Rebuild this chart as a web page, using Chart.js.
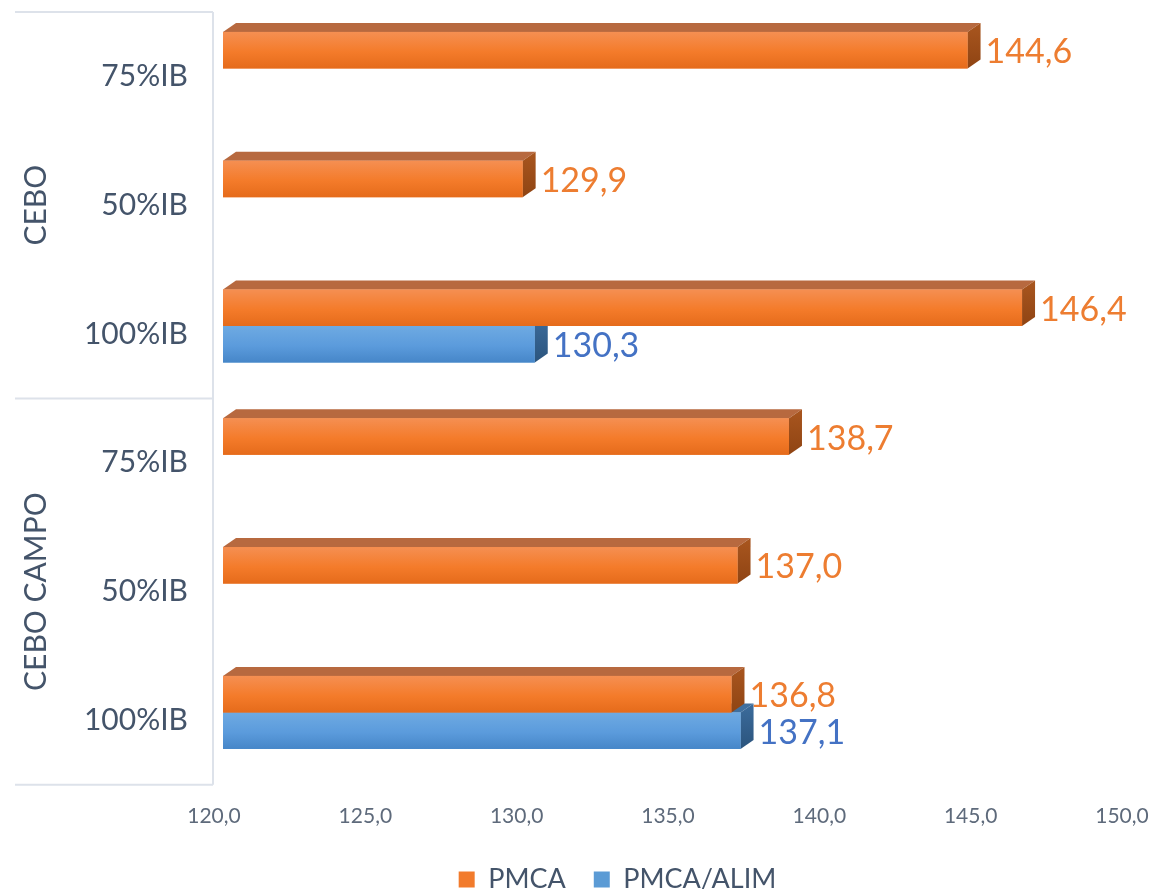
<!DOCTYPE html>
<html><head><meta charset="utf-8">
<script src="https://cdn.jsdelivr.net/npm/chart.js@4/dist/chart.umd.min.js"></script>
<style>html,body{margin:0;padding:0;background:#fff}#wrap{width:1153px;height:889px}</style>
</head><body><div id="wrap"><canvas id="c" width="1153" height="889"></canvas></div>
<script>
const groups = ['CEBO', 'CEBO CAMPO'];
const groupSizes = [3, 3];
const categories = ['75%IB', '50%IB', '100%IB', '75%IB', '50%IB', '100%IB'];
const seriesNames = ['PMCA', 'PMCA/ALIM'];
const pmca = [144.6, 129.9, 146.4, 138.7, 137.0, 136.8];
const pmcaAlim = [null, null, 130.3, null, null, 137.1];
const xMin = 120, xMax = 150, xStep = 5;

const FONT = 'Lato, "Noto Sans", sans-serif';
const DX = 13, DY = 9, OFF = 8;
const fmt = v => v.toFixed(1).replace('.', ',');
const styles = [
  {base: '#f27b2c', top: '#b7693f', s0: '#a9561f', s1: '#8f4413', g0: '#f58f52', g1: '#f47b2a', g2: '#e56b1b', label: '#ed7d31'},
  {base: '#5b9bd5', top: '#40709f', s0: '#3c6c9c', s1: '#2b547d', g0: '#6eaae2', g1: '#5b9bdc', g2: '#4686c8', label: '#4472c4'}
];

const bar3d = {
  id: 'bar3d',
  afterLayout(chart) {
    const lg = chart.legend;
    if (lg) { lg.left += 52; lg.right += 52; lg.top -= 18; lg.bottom -= 18; }
  },
  afterDatasetDraw(chart, args) {
    const i = args.index, st = styles[i], ctx = chart.ctx;
    ctx.save();
    args.meta.data.forEach((bar, j) => {
      const v = chart.data.datasets[i].data[j];
      if (v == null) return;
      const p = bar.getProps(['x', 'y', 'base', 'height'], true);
      const top = p.y - p.height / 2, bot = p.y + p.height / 2;
      const left = Math.max(p.base, chart.chartArea.left), right = p.x;
      ctx.fillStyle = st.top;
      ctx.beginPath();
      ctx.moveTo(left, top); ctx.lineTo(left + DX, top - DY);
      ctx.lineTo(right + DX, top - DY); ctx.lineTo(right, top);
      ctx.closePath(); ctx.fill();
      const sg = ctx.createLinearGradient(0, top - DY, 0, bot);
      sg.addColorStop(0, st.s0); sg.addColorStop(1, st.s1);
      ctx.fillStyle = sg;
      ctx.beginPath();
      ctx.moveTo(right, top); ctx.lineTo(right + DX, top - DY);
      ctx.lineTo(right + DX, bot - DY); ctx.lineTo(right, bot);
      ctx.closePath(); ctx.fill();
      const g = ctx.createLinearGradient(0, top, 0, bot);
      g.addColorStop(0, st.g0); g.addColorStop(0.55, st.g1); g.addColorStop(1, st.g2);
      ctx.fillStyle = g;
      ctx.fillRect(left, top, right - left, bot - top);
    });
    ctx.restore();
  },
  afterDraw(chart) {
    const ctx = chart.ctx;
    ctx.save();
    chart.data.datasets.forEach((ds, i) => {
      const meta = chart.getDatasetMeta(i);
      meta.data.forEach((bar, j) => {
        const v = ds.data[j];
        if (v == null) return;
        const p = bar.getProps(['x', 'y'], true);
        ctx.fillStyle = styles[i].label;
        ctx.font = '34px ' + FONT;
        ctx.textAlign = 'left';
        ctx.textBaseline = 'middle';
        ctx.fillText(fmt(v), p.x + DX + 5, p.y + 2);
      });
    });
    const ys = chart.scales.y;
    const step = ys.getPixelForValue(1) - ys.getPixelForValue(0);
    ctx.strokeStyle = '#dde2ea';
    ctx.lineWidth = 2;
    let idx = 0;
    const bounds = [ys.getPixelForValue(0) - step / 2 + OFF];
    groups.forEach((g, k) => {
      const y0 = ys.getPixelForValue(idx) - step / 2 + OFF;
      const y1 = ys.getPixelForValue(idx + groupSizes[k] - 1) + step / 2 + OFF;
      bounds.push(y1);
      ctx.save();
      ctx.translate(36, (y0 + y1) / 2);
      ctx.rotate(-Math.PI / 2);
      ctx.fillStyle = '#44546a';
      ctx.font = '30px ' + FONT;
      ctx.textAlign = 'center';
      ctx.textBaseline = 'middle';
      ctx.fillText(g, 0, 0);
      ctx.restore();
      idx += groupSizes[k];
    });
    const vx = chart.chartArea.left - 10;
    bounds.forEach(b => {
      ctx.beginPath(); ctx.moveTo(15, b); ctx.lineTo(vx, b); ctx.stroke();
    });
    ctx.beginPath(); ctx.moveTo(vx, bounds[0]); ctx.lineTo(vx, bounds[bounds.length - 1]); ctx.stroke();
    ctx.restore();
  }
};

new Chart(document.getElementById('c'), {
  type: 'bar',
  data: {
    labels: categories,
    datasets: [
      {label: seriesNames[0], data: pmca, backgroundColor: styles[0].base},
      {label: seriesNames[1], data: pmcaAlim, backgroundColor: styles[1].base}
    ]
  },
  options: {
    indexAxis: 'y',
    responsive: false,
    devicePixelRatio: 1,
    animation: false,
    categoryPercentage: 0.567,
    barPercentage: 1,
    layout: {padding: {top: 4, right: 22, bottom: -32, left: 0}},
    scales: {
      x: {
        min: xMin, max: xMax,
        grid: {display: false, drawTicks: false},
        border: {display: false},
        afterFit: s => { s.paddingLeft = 0; s.paddingRight = 0; },
        ticks: {
          stepSize: xStep,
          padding: 27,
          labelOffset: -9,
          color: '#5e6a7b',
          font: {family: FONT, size: 21},
          callback: v => fmt(v)
        }
      },
      y: {
        grid: {display: false, drawTicks: false},
        border: {display: false},
        afterFit: s => { s.width = 223; s.paddingTop = 0; s.paddingBottom = 0; },
        ticks: {
          padding: 35,
          labelOffset: OFF,
          color: '#44546a',
          font: {family: FONT, size: 30}
        }
      }
    },
    plugins: {
      tooltip: {enabled: false},
      legend: {
        position: 'bottom',
        labels: {
          boxWidth: 16, boxHeight: 16,
          padding: 28,
          color: '#44546a',
          font: {family: FONT, size: 27}
        }
      }
    }
  },
  plugins: [bar3d]
});
</script></body></html>
